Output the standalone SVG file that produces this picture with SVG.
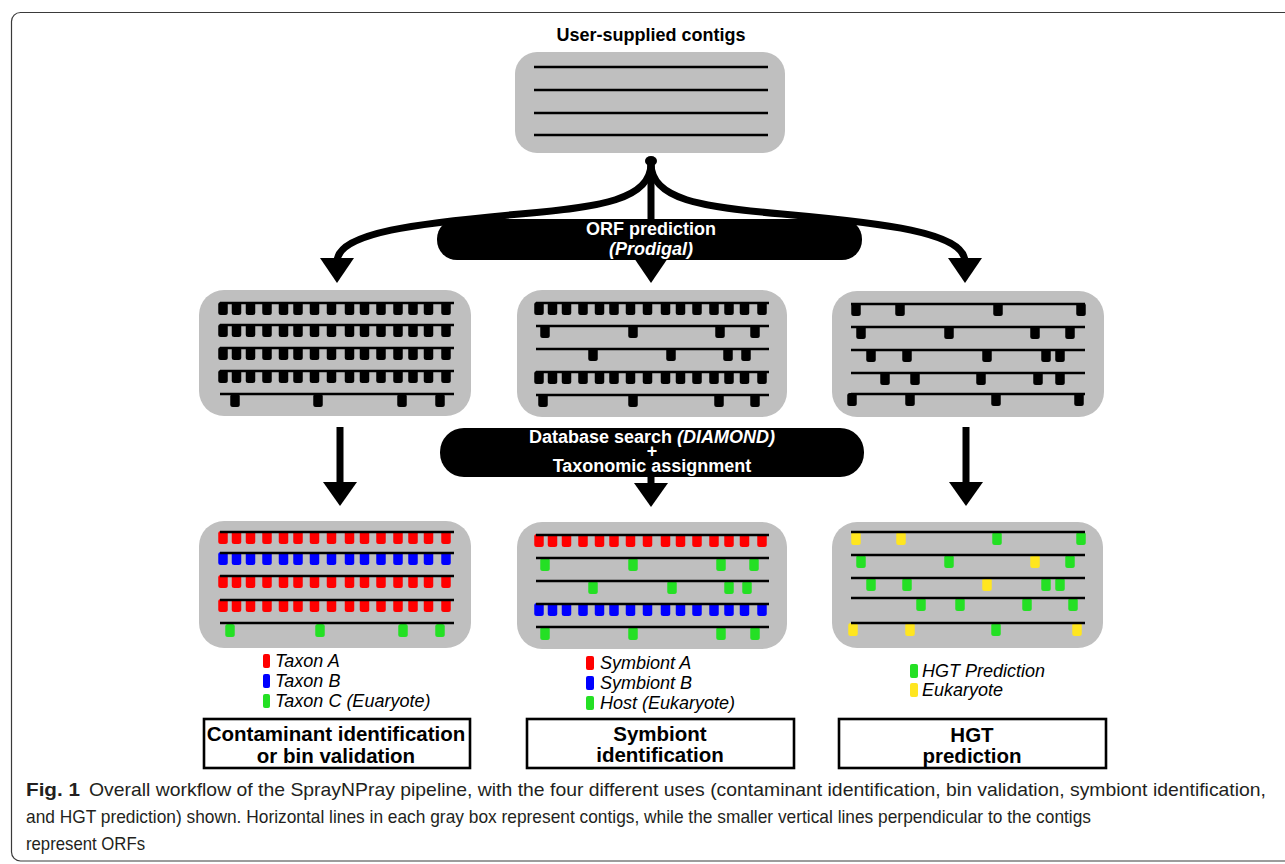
<svg xmlns="http://www.w3.org/2000/svg" width="1285" height="864" viewBox="0 0 1285 864">
<style>
.box{fill:#bfbfbf}
.ctg{stroke:#000;stroke-width:2.6;fill:none}
.arr{stroke:#000;stroke-width:7;fill:none}
.hd{fill:#000}
.k{fill:#000}.r{fill:#ff0000}.b{fill:#0000ff}.g{fill:#24e024}.y{fill:#ffe620}
.t{font-family:"Liberation Sans",Arial,sans-serif;font-weight:bold;font-size:18px;text-anchor:middle}
.w{fill:#fff}
.lab{font-family:"Liberation Sans",Arial,sans-serif;font-weight:bold;font-size:20.5px;text-anchor:middle;fill:#000}
.leg{font-family:"Liberation Sans",Arial,sans-serif;font-style:italic;font-size:18px;fill:#000}
.cap{font-family:"Liberation Sans",Arial,sans-serif;font-size:19px;fill:#231f20}
.lbox{fill:#fff;stroke:#000;stroke-width:2.6}
</style>
<defs>
<rect id="o" x="-4.75" y="0" width="9.5" height="13" rx="2.5"/>
<g id="dr">
<rect x="-1.75" y="0" width="9.5" height="13" rx="2.5"/>
<rect x="11.75" y="0" width="9.5" height="13" rx="2.5"/>
<rect x="25.75" y="0" width="9.5" height="13" rx="2.5"/>
<rect x="42.25" y="0" width="9.5" height="13" rx="2.5"/>
<rect x="58.75" y="0" width="9.5" height="13" rx="2.5"/>
<rect x="73.25" y="0" width="9.5" height="13" rx="2.5"/>
<rect x="89.75" y="0" width="9.5" height="13" rx="2.5"/>
<rect x="106.75" y="0" width="9.5" height="13" rx="2.5"/>
<rect x="124.75" y="0" width="9.5" height="13" rx="2.5"/>
<rect x="139.75" y="0" width="9.5" height="13" rx="2.5"/>
<rect x="156.25" y="0" width="9.5" height="13" rx="2.5"/>
<rect x="173.25" y="0" width="9.5" height="13" rx="2.5"/>
<rect x="188.25" y="0" width="9.5" height="13" rx="2.5"/>
<rect x="203.75" y="0" width="9.5" height="13" rx="2.5"/>
<rect x="221.25" y="0" width="9.5" height="13" rx="2.5"/>
</g>
</defs>

<rect x="11.5" y="12.5" width="1300" height="848.5" rx="9" fill="none" stroke="#3a3a3a" stroke-width="1.2"/>

<g id="contigs">
<text class="t" x="651" y="41">User-supplied contigs</text>
<rect class="box" x="515" y="52" width="270" height="101" rx="22"/>
<line class="ctg" x1="534" y1="67" x2="768" y2="67"/>
<line class="ctg" x1="534" y1="90" x2="768" y2="90"/>
<line class="ctg" x1="534" y1="113" x2="768" y2="113"/>
<line class="ctg" x1="534" y1="135" x2="768" y2="135"/>
</g>

<g id="connectors">
<ellipse cx="651" cy="161" rx="6" ry="5" fill="#000"/>
<path class="arr" d="M651,163 C651,200 600,207 520,214 C420,223 337,232 337,262"/>
<path class="arr" d="M651,163 C651,200 702,207 782,214 C882,223 965,232 965,262"/>
<line class="arr" x1="651" y1="163" x2="651" y2="262"/>
<polygon class="hd" points="320,258 354,258 337,283"/>
<polygon class="hd" points="634,258 668,258 651,283"/>
<polygon class="hd" points="948,258 982,258 965,283"/>
<line class="arr" x1="340" y1="427" x2="340" y2="488"/>
<polygon class="hd" points="323,482 357,482 340,506"/>
<line class="arr" x1="651" y1="470" x2="651" y2="490"/>
<polygon class="hd" points="634,483 668,483 651,507"/>
<line class="arr" x1="966" y1="427" x2="966" y2="488"/>
<polygon class="hd" points="949,482 983,482 966,506"/>
</g>

<g id="orf-prediction">
<rect x="437" y="219" width="425" height="41" rx="20" fill="#000"/>
<text class="t w" x="651" y="235">ORF prediction</text>
<text class="t w" x="651" y="255" font-style="italic">(Prodigal)</text>
</g>

<g id="db-search">
<rect x="440" y="428" width="424" height="49" rx="24" fill="#000"/>
<text class="t w" x="652" y="443">Database search <tspan font-style="italic">(DIAMOND)</tspan></text>
<text class="t w" x="652" y="457" font-size="15">+</text>
<text class="t w" x="652" y="472">Taxonomic assignment</text>
</g>

<g id="orfs-left">
<rect class="box" x="199" y="290" width="272" height="126" rx="25"/>
<g class="k">
<use href="#dr" x="220" y="302"/>
<use href="#dr" x="220" y="324"/>
<use href="#dr" x="220" y="347"/>
<use href="#dr" x="220" y="370"/>
<use href="#o" x="235" y="394"/><use href="#o" x="318" y="394"/><use href="#o" x="402" y="394"/><use href="#o" x="440" y="394"/>
</g>
<line class="ctg" x1="220" y1="303" x2="454" y2="303"/>
<line class="ctg" x1="220" y1="325" x2="454" y2="325"/>
<line class="ctg" x1="220" y1="348" x2="454" y2="348"/>
<line class="ctg" x1="220" y1="371" x2="454" y2="371"/>
<line class="ctg" x1="220" y1="394" x2="454" y2="394"/>
</g>

<g id="orfs-center">
<rect class="box" x="517" y="290" width="270" height="127" rx="25"/>
<g class="k">
<use href="#dr" x="536" y="302"/>
<use href="#o" x="545" y="325"/><use href="#o" x="633" y="325"/><use href="#o" x="720" y="325"/><use href="#o" x="755" y="325"/>
<use href="#o" x="593" y="348"/><use href="#o" x="671" y="348"/><use href="#o" x="728" y="348"/><use href="#o" x="746" y="348"/>
<use href="#dr" x="536" y="371"/>
<use href="#o" x="543" y="394"/><use href="#o" x="633" y="394"/><use href="#o" x="719" y="394"/><use href="#o" x="755" y="394"/>
</g>
<line class="ctg" x1="536" y1="303" x2="769" y2="303"/>
<line class="ctg" x1="536" y1="326" x2="769" y2="326"/>
<line class="ctg" x1="536" y1="349" x2="769" y2="349"/>
<line class="ctg" x1="536" y1="372" x2="769" y2="372"/>
<line class="ctg" x1="536" y1="395" x2="769" y2="395"/>
</g>

<g id="orfs-right">
<rect class="box" x="832" y="291" width="272" height="126" rx="25"/>
<g class="k">
<use href="#o" x="856" y="303"/><use href="#o" x="900" y="303"/><use href="#o" x="998" y="303"/><use href="#o" x="1081" y="303"/>
<use href="#o" x="861" y="326"/><use href="#o" x="949" y="326"/><use href="#o" x="1035" y="326"/><use href="#o" x="1070" y="326"/>
<use href="#o" x="871" y="349"/><use href="#o" x="907" y="349"/><use href="#o" x="987" y="349"/><use href="#o" x="1046" y="349"/><use href="#o" x="1060" y="349"/>
<use href="#o" x="885" y="372"/><use href="#o" x="915" y="372"/><use href="#o" x="981" y="372"/><use href="#o" x="1038" y="372"/><use href="#o" x="1060" y="372"/>
<use href="#o" x="852" y="393"/><use href="#o" x="910" y="393"/><use href="#o" x="996" y="393"/><use href="#o" x="1079" y="393"/>
</g>
<line class="ctg" x1="851" y1="304" x2="1085" y2="304"/>
<line class="ctg" x1="851" y1="327" x2="1085" y2="327"/>
<line class="ctg" x1="851" y1="350" x2="1085" y2="350"/>
<line class="ctg" x1="851" y1="373" x2="1085" y2="373"/>
<line class="ctg" x1="851" y1="394" x2="1085" y2="394"/>
</g>

<g id="contaminant">
<rect class="box" x="199" y="521" width="272" height="127" rx="25"/>
<use class="r" href="#dr" x="220" y="531"/>
<use class="b" href="#dr" x="220" y="552"/>
<use class="r" href="#dr" x="220" y="575"/>
<use class="r" href="#dr" x="220" y="599"/>
<g class="g"><use href="#o" x="230" y="624"/><use href="#o" x="320" y="624"/><use href="#o" x="403" y="624"/><use href="#o" x="440" y="624"/></g>
<line class="ctg" x1="220" y1="532" x2="454" y2="532"/>
<line class="ctg" x1="220" y1="553" x2="454" y2="553"/>
<line class="ctg" x1="220" y1="576" x2="454" y2="576"/>
<line class="ctg" x1="220" y1="600" x2="454" y2="600"/>
<line class="ctg" x1="220" y1="623" x2="454" y2="623"/>
<rect class="r" x="263" y="654" width="7" height="14" rx="2"/>
<rect class="b" x="263" y="674" width="7" height="14" rx="2"/>
<rect class="g" x="263" y="694" width="7" height="14" rx="2"/>
<text class="leg" x="275" y="667">Taxon A</text>
<text class="leg" x="275" y="687">Taxon B</text>
<text class="leg" x="275" y="707">Taxon C (Euaryote)</text>
<rect class="lbox" x="204" y="719" width="266" height="49"/>
<text class="lab" x="336" y="741">Contaminant identification</text>
<text class="lab" x="336" y="763">or bin validation</text>
</g>

<g id="symbiont">
<rect class="box" x="517" y="522" width="270" height="127" rx="25"/>
<use class="r" href="#dr" x="536" y="534"/>
<g class="g"><use href="#o" x="545" y="558"/><use href="#o" x="633" y="558"/><use href="#o" x="721" y="558"/><use href="#o" x="754" y="558"/>
<use href="#o" x="593" y="581"/><use href="#o" x="672" y="581"/><use href="#o" x="729" y="581"/><use href="#o" x="747" y="581"/></g>
<use class="b" href="#dr" x="536" y="603"/>
<g class="g"><use href="#o" x="545" y="627"/><use href="#o" x="633" y="627"/><use href="#o" x="721" y="627"/><use href="#o" x="755" y="627"/></g>
<line class="ctg" x1="536" y1="535" x2="769" y2="535"/>
<line class="ctg" x1="536" y1="558" x2="769" y2="558"/>
<line class="ctg" x1="536" y1="581" x2="769" y2="581"/>
<line class="ctg" x1="536" y1="604" x2="769" y2="604"/>
<line class="ctg" x1="536" y1="627" x2="769" y2="627"/>
<rect class="r" x="586" y="656" width="8" height="14" rx="2"/>
<rect class="b" x="586" y="676" width="8" height="14" rx="2"/>
<rect class="g" x="586" y="696" width="8" height="14" rx="2"/>
<text class="leg" x="600" y="669">Symbiont A</text>
<text class="leg" x="600" y="689">Symbiont B</text>
<text class="leg" x="600" y="709">Host (Eukaryote)</text>
<rect class="lbox" x="527" y="719" width="267" height="49"/>
<text class="lab" x="660" y="741">Symbiont</text>
<text class="lab" x="660" y="762">identification</text>
</g>

<g id="hgt">
<rect class="box" x="832" y="522" width="271" height="126" rx="25"/>
<use class="y" href="#o" x="856" y="532"/><use class="y" href="#o" x="901" y="532"/><use class="g" href="#o" x="997" y="532"/><use class="g" href="#o" x="1081" y="532"/>
<use class="g" href="#o" x="861" y="555"/><use class="g" href="#o" x="949" y="555"/><use class="y" href="#o" x="1035" y="555"/><use class="g" href="#o" x="1070" y="555"/>
<use class="g" href="#o" x="871" y="578"/><use class="g" href="#o" x="907" y="578"/><use class="y" href="#o" x="987" y="578"/><use class="g" href="#o" x="1046" y="578"/><use class="g" href="#o" x="1060" y="578"/>
<use class="g" href="#o" x="921" y="598"/><use class="g" href="#o" x="960" y="598"/><use class="g" href="#o" x="1027" y="598"/><use class="g" href="#o" x="1073" y="598"/>
<use class="y" href="#o" x="853" y="623"/><use class="y" href="#o" x="910" y="623"/><use class="g" href="#o" x="996" y="623"/><use class="y" href="#o" x="1077" y="623"/>
<line class="ctg" x1="851" y1="532" x2="1085" y2="532"/>
<line class="ctg" x1="851" y1="555" x2="1085" y2="555"/>
<line class="ctg" x1="851" y1="578" x2="1085" y2="578"/>
<line class="ctg" x1="851" y1="598" x2="1085" y2="598"/>
<line class="ctg" x1="851" y1="623" x2="1085" y2="623"/>
<rect class="g" x="910" y="664" width="8" height="14" rx="2"/>
<rect class="y" x="910" y="683" width="8" height="14" rx="2"/>
<text class="leg" x="922" y="677">HGT Prediction</text>
<text class="leg" x="922" y="696">Eukaryote</text>
<rect class="lbox" x="839" y="719" width="267" height="49"/>
<text class="lab" x="972" y="742">HGT</text>
<text class="lab" x="972" y="763">prediction</text>
</g>

<g id="caption">
<text class="cap" x="26" y="796" font-weight="bold" textLength="54" lengthAdjust="spacingAndGlyphs">Fig. 1</text>
<text class="cap" x="89" y="796" textLength="1177" lengthAdjust="spacingAndGlyphs">Overall workflow of the SprayNPray pipeline, with the four different uses (contaminant identification, bin validation, symbiont identification,</text>
<text class="cap" x="26" y="823" textLength="1065" lengthAdjust="spacingAndGlyphs">and HGT prediction) shown. Horizontal lines in each gray box represent contigs, while the smaller vertical lines perpendicular to the contigs</text>
<text class="cap" x="26" y="850" textLength="119" lengthAdjust="spacingAndGlyphs">represent ORFs</text>
</g>
</svg>
